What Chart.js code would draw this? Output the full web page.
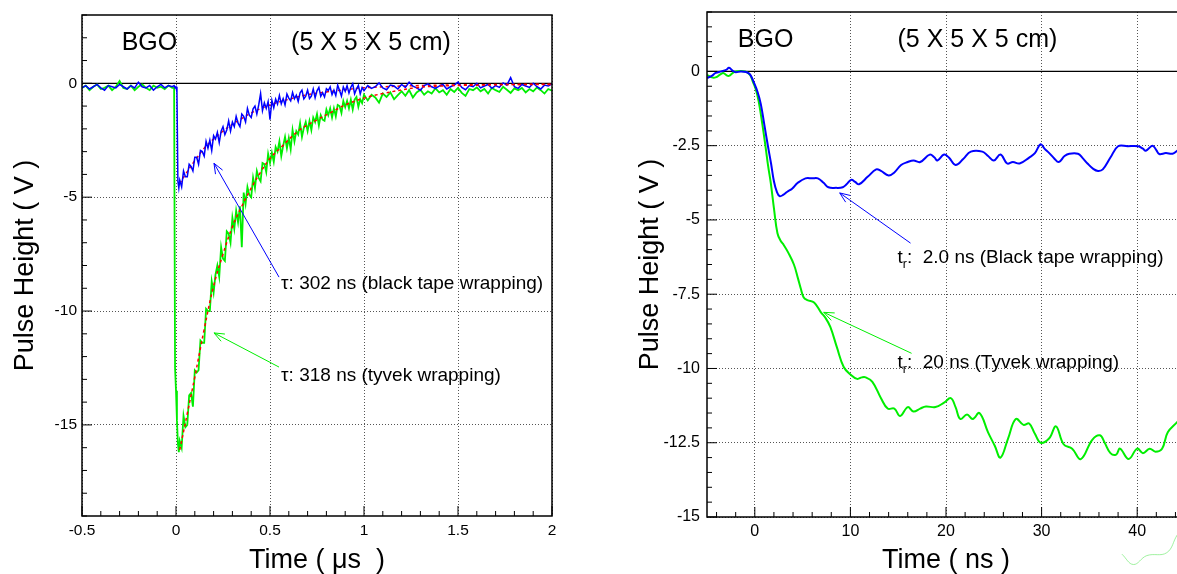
<!DOCTYPE html>
<html>
<head>
<meta charset="utf-8">
<script src="https://cdn.jsdelivr.net/npm/chart.js@4.4.0/dist/chart.umd.min.js"></script>
<style>
html, body { margin:0; padding:0; background:#fff; overflow:hidden; width:1177px; height:574px; }
#left  { position:absolute; left:0; top:0; }
#right { position:absolute; left:620px; top:0; }
</style>
</head>
<body>
<canvas id="left" width="580" height="574"></canvas>
<canvas id="right" width="600" height="574"></canvas>
<script>
// ---- left panel: decay pulses, time in us ----
const leftTime = [
  -0.5,-0.48,-0.46,-0.44,-0.42,-0.4,-0.38,-0.36,-0.34,-0.32,-0.3,-0.28,-0.26,-0.24,-0.22,-0.2,-0.18,-0.16,-0.14,-0.12,-0.1,-0.08,-0.06,-0.04,-0.02,
  -0.01,-0.005,0,0.005,0.01,0.015,
  0.02,0.03,0.04,0.05,0.06,0.07,0.08,0.09,0.1,0.11,
  0.12,0.13,0.14,0.15,0.16,0.17,0.18,0.19,0.2,0.21,
  0.22,0.23,0.24,0.25,0.26,0.27,0.28,0.29,0.3,0.31,
  0.32,0.33,0.34,0.35,0.36,0.37,0.38,0.39,0.4,0.41,
  0.42,0.43,0.44,0.45,0.46,0.47,0.48,0.49,0.5,0.51,
  0.52,0.53,0.54,0.55,0.56,0.57,0.58,0.59,0.6,0.61,
  0.62,0.63,0.64,0.65,0.66,0.67,0.68,0.69,0.7,0.71,
  0.72,0.73,0.74,0.75,0.76,0.77,0.78,0.79,0.8,0.81,
  0.82,0.83,0.84,0.85,0.86,0.87,0.88,0.89,0.9,0.91,
  0.92,0.93,0.94,0.95,0.96,0.97,0.98,0.99,1.0,
  1.02,1.04,1.06,1.08,1.1,1.12,1.14,1.16,1.18,1.2,
  1.22,1.24,1.26,1.28,1.3,1.32,1.34,1.36,1.38,1.4,
  1.42,1.44,1.46,1.48,1.5,1.52,1.54,1.56,1.58,1.6,
  1.62,1.64,1.66,1.68,1.7,1.72,1.74,1.76,1.78,1.8,
  1.82,1.84,1.86,1.88,1.9,1.92,1.94,1.96,1.98,2.0
];
const leftBlack = [
  -0.2,-0.1,-0.25,-0.15,-0.05,-0.2,-0.3,-0.1,-0.15,-0.2,-0.05,-0.15,-0.25,-0.1,-0.2,0.05,-0.15,-0.2,-0.1,-0.3,-0.15,-0.05,-0.2,-0.1,-0.15,
  -0.1,-0.2,-0.15,-0.4,-4.3,-4.6,
  -4.25,-4.55,-3.85,-4.1,-4.1,-3.55,-3.65,-3.85,-3.25,-3.25,
  -3.55,-2.95,-3.0,-3.2,-2.55,-2.85,-2.5,-2.95,-2.3,-2.45,
  -2.15,-2.6,-2.1,-1.9,-2.25,-2.05,-1.65,-2.1,-1.7,-1.9,
  -1.45,-1.75,-1.9,-1.35,-1.45,-1.7,-1.1,-1.4,-1.5,-1.12,
  -1.0,-1.35,-0.95,-0.45,-1.2,-0.85,-1.1,-0.8,-1.6,-0.75,
  -1.07,-0.69,-0.91,-0.53,-0.9,-0.67,-0.95,-0.47,-0.65,-0.77,
  -0.4,-0.68,-0.52,-0.8,-0.42,-0.3,-0.68,-0.56,-0.3,-0.67,
  -0.56,-0.25,-0.64,-0.33,-0.18,-0.57,-0.41,-0.6,-0.24,-0.32,
  -0.16,-0.5,-0.3,-0.54,-0.08,-0.32,-0.56,-0.16,-0.35,-0.1,
  -0.43,-0.17,-0.02,-0.46,-0.25,-0.09,-0.47,-0.19,-0.32,
  -0.1,-0.22,-0.15,0.02,-0.2,-0.28,-0.08,-0.12,-0.25,-0.05,
  -0.18,0.05,-0.12,-0.2,-0.3,-0.1,-0.02,-0.15,-0.22,-0.12,
  -0.05,-0.25,-0.15,-0.08,0.05,-0.18,-0.28,-0.1,-0.15,0.0,
  -0.2,-0.12,-0.05,-0.22,-0.1,-0.18,0.02,-0.08,0.25,-0.15,
  -0.22,-0.05,-0.12,-0.18,0.0,-0.15,-0.25,-0.08,-0.12,-0.02
];
const leftTyvek = [
  -0.2,-0.1,-0.3,-0.15,-0.05,-0.25,-0.2,-0.1,-0.3,-0.15,0.1,-0.2,-0.25,-0.1,-0.3,-0.15,-0.05,-0.2,-0.3,-0.1,-0.2,-0.15,-0.25,-0.1,-0.2,
  -0.2,-12.5,-13.5,-14.8,-15.8,-16.2,
  -15.7,-16.0,-14.6,-15.1,-15.0,-13.7,-13.6,-14.2,-12.6,-12.7,
  -12.6,-11.3,-11.4,-11.4,-9.9,-10.0,-10.0,-8.7,-9.2,-8.4,
  -8.0,-8.5,-7.2,-7.7,-7.8,-6.5,-6.6,-7.0,-5.9,-6.4,
  -5.6,-6.1,-5.4,-7.2,-4.8,-5.3,-4.55,-4.9,-5.0,-4.15,
  -4.6,-3.85,-4.15,-4.3,-3.5,-3.55,-3.9,-3.1,-3.5,-3.05,
  -3.45,-2.8,-3.0,-2.55,-3.2,-2.75,-2.35,-2.85,-2.4,-2.9,
  -2.05,-2.55,-2.1,-2.25,-1.75,-2.35,-1.95,-1.7,-2.1,-1.65,
  -2.05,-1.5,-1.7,-1.35,-1.85,-1.4,-1.6,-1.65,-1.15,-1.4,
  -1.1,-1.5,-1.1,-1.45,-0.95,-1.0,-1.3,-0.78,-1.05,-0.77,
  -1.1,-0.72,-1.15,-0.72,-0.6,-1.03,-0.7,-0.87,-0.5,
  -0.75,-0.5,-0.62,-0.85,-0.45,-0.6,-0.4,-0.7,-0.52,-0.35,
  -0.55,-0.3,-0.62,-0.4,-0.28,-0.5,-0.35,-0.45,-0.22,-0.4,
  -0.3,-0.5,-0.25,-0.38,-0.2,-0.42,-0.55,-0.25,-0.3,-0.18,
  -0.35,-0.25,-0.45,-0.2,-0.3,-0.38,-0.15,-0.28,-0.42,-0.22,
  -0.3,-0.2,-0.4,-0.25,-0.35,-0.18,-0.3,-0.45,-0.25,-0.32
];
// exponential fits (red dashed)
const fitBlackT = [0.02,0.05,0.1,0.15,0.2,0.25,0.3,0.35,0.4,0.5,0.6,0.7,0.8,0.9,1.0,1.2,1.5,2.0];
const fitBlackV = [-4.4,-4.0,-3.4,-2.85,-2.45,-2.1,-1.8,-1.55,-1.3,-0.95,-0.7,-0.5,-0.38,-0.28,-0.2,-0.12,-0.07,-0.04];
const fitTyvekT = [0.02,0.06,0.1,0.15,0.2,0.25,0.3,0.35,0.4,0.45,0.5,0.56,0.65,0.75,0.82,0.9,1.0,1.1,1.27,1.4,1.6,1.8,2.0];
const fitTyvekV = [-16.1,-14.5,-12.9,-10.8,-8.9,-7.5,-6.3,-5.4,-4.6,-3.9,-3.3,-2.8,-2.1,-1.6,-1.3,-0.95,-0.65,-0.45,-0.2,-0.12,-0.08,-0.05,-0.05];

const leftXTicks = [-0.5, 0, 0.5, 1, 1.5, 2];
const leftYTicks = [-15, -10, -5, 0];

// ---- right panel: rise time, time in ns ----
const rightBlackT = [-5,-4.5,-4.1,-3.5,-3.0,-2.7,-2.3,-2.0,-1.5,-0.9,-0.5,-0.1,0.3,0.63,1.0,1.35,1.7,2.0,2.3,2.6,3.0,3.4,3.9,4.5,5.3,6.0,6.6,7.2,7.7,8.5,9.2,9.6,10.1,10.5,10.9,11.8,12.7,13.2,14.0,14.6,15.3,16.0,16.6,17.3,18.3,18.8,19.1,19.8,20.3,21.0,21.8,22.6,23.8,24.4,25.0,25.7,26.4,27.0,27.7,28.7,29.3,29.9,30.3,30.8,31.3,31.8,32.4,32.9,33.8,34.3,34.8,35.4,35.9,36.4,37.2,38.0,39.0,40.1,40.6,40.9,41.6,42.0,42.3,43.0,43.7,44.3,45];
const rightBlackV = [-0.22,-0.15,-0.05,0.0,0.05,0.12,0.02,-0.03,0.0,-0.02,-0.1,-0.37,-0.7,-1.1,-1.8,-2.47,-3.1,-3.7,-4.05,-4.2,-4.15,-4.05,-3.95,-3.75,-3.6,-3.6,-3.6,-3.75,-3.9,-3.92,-3.9,-3.8,-3.65,-3.72,-3.8,-3.55,-3.3,-3.35,-3.5,-3.4,-3.15,-3.05,-3.0,-3.05,-2.8,-2.9,-3.0,-2.8,-2.9,-3.15,-2.95,-2.7,-2.7,-2.85,-3.0,-2.8,-3.1,-3.05,-3.1,-2.9,-2.75,-2.45,-2.6,-2.75,-2.92,-3.05,-2.85,-2.77,-2.77,-2.92,-3.1,-3.28,-3.35,-3.3,-2.9,-2.52,-2.52,-2.52,-2.6,-2.67,-2.5,-2.65,-2.78,-2.75,-2.77,-2.65,-2.6];
const rightTyvekT = [-5,-4.5,-4.1,-3.6,-3.3,-3.0,-2.7,-2.3,-2.0,-1.0,-0.5,-0.2,0.1,0.4,0.8,1.15,1.4,1.67,2.0,2.37,2.7,3.04,3.5,4.09,4.5,4.8,5.1,5.5,6.2,6.9,7.4,7.9,8.6,9.3,10.0,10.7,11.2,11.6,12.3,13.2,13.9,14.6,15.2,16.0,16.6,17.3,17.9,18.9,19.8,20.5,21.0,21.5,22.2,22.8,23.5,24.4,25.1,25.7,26.5,27.3,28.1,28.7,29.3,29.9,30.8,31.5,32.3,33.2,34.1,35.3,36.1,36.6,37.2,37.8,38.2,39.1,40.0,40.6,41.3,41.9,42.6,43.2,44.2,45];
const rightTyvekV = [-0.12,-0.2,-0.2,-0.1,-0.05,-0.12,-0.15,-0.05,0.0,0.0,-0.12,-0.35,-0.6,-1.0,-1.8,-2.6,-3.2,-3.75,-4.6,-5.45,-5.7,-5.85,-6.1,-6.5,-6.95,-7.3,-7.6,-7.7,-7.78,-8.1,-8.3,-8.6,-9.3,-9.95,-10.2,-10.35,-10.3,-10.3,-10.45,-11.0,-11.35,-11.35,-11.6,-11.3,-11.45,-11.35,-11.28,-11.3,-11.15,-11.0,-11.3,-11.7,-11.55,-11.7,-11.5,-12.15,-12.6,-13.0,-12.35,-11.7,-11.9,-11.85,-12.2,-12.5,-12.35,-11.95,-12.55,-12.7,-13.05,-12.4,-12.25,-12.5,-12.85,-12.9,-12.7,-13.05,-12.7,-12.85,-12.7,-12.8,-12.7,-12.15,-11.8,-11.5];
// faint stray trace below the frame, bottom right
const strayT = [38.4,39.6,41.0,43.1,44.2,45];
const strayV = [-16.25,-16.6,-16.3,-16.2,-15.6,-15.3];

const rightXTicks = [0, 10, 20, 30, 40];
const rightYTicks = [-15, -12.5, -10, -7.5, -5, -2.5, 0];

const FONT = '"Liberation Sans", Arial, Helvetica, sans-serif';
Chart.defaults.font.family = FONT;
Chart.defaults.color = '#000';

const pts = (xs, ys) => xs.map((x, i) => ({ x: x, y: ys[i] }));

// frame, zero line, inner ROOT-style ticks, labels and arrows
const panelDecor = {
  id: 'panelDecor',
  beforeDatasetsDraw(chart) {
    const { ctx, chartArea: a, scales: { y } } = chart;
    const y0 = y.getPixelForValue(0);
    ctx.save();
    ctx.strokeStyle = '#000';
    ctx.lineWidth = 1.3;
    ctx.beginPath(); ctx.moveTo(a.left, y0); ctx.lineTo(a.right, y0); ctx.stroke();
    ctx.restore();
  },
  afterDatasetsDraw(chart, args, opts) {
    const { ctx, chartArea: a, scales: { x, y } } = chart;
    ctx.save();
    ctx.strokeStyle = '#000';
    ctx.lineWidth = 1.5;
    ctx.strokeRect(a.left, a.top, a.right - a.left, a.bottom - a.top);

    ctx.lineWidth = 1;
    const ticks = (scale, minor, major, draw) => {
      const k0 = Math.ceil(scale.min / minor - 1e-6), k1 = Math.floor(scale.max / minor + 1e-6);
      for (let k = k0; k <= k1; k++) {
        const r = k * minor / major;
        draw(scale.getPixelForValue(k * minor), Math.abs(r - Math.round(r)) < 1e-6 ? 10 : 5);
      }
    };
    ctx.beginPath();
    ticks(x, opts.minorX, opts.majorX, (p, len) => { ctx.moveTo(p, a.bottom); ctx.lineTo(p, a.bottom - len); });
    ticks(y, opts.minorY, opts.majorY, (p, len) => { ctx.moveTo(a.left, p); ctx.lineTo(a.left + len, p); });
    ctx.stroke();

    opts.arrows.forEach(ar => {
      const x1 = x.getPixelForValue(ar.from[0]), y1 = y.getPixelForValue(ar.from[1]);
      const x2 = x.getPixelForValue(ar.to[0]), y2 = y.getPixelForValue(ar.to[1]);
      const ang = Math.atan2(y2 - y1, x2 - x1);
      ctx.strokeStyle = ar.color;
      ctx.lineWidth = 1;
      ctx.beginPath();
      ctx.moveTo(x1, y1); ctx.lineTo(x2, y2);
      [-0.38, 0.38].forEach(d => {
        ctx.moveTo(x2, y2);
        ctx.lineTo(x2 - 11 * Math.cos(ang + d), y2 - 11 * Math.sin(ang + d));
      });
      ctx.stroke();
    });

    ctx.fillStyle = '#000';
    ctx.textAlign = 'left';
    ctx.textBaseline = 'alphabetic';
    opts.texts.forEach(t => {
      let px = x.getPixelForValue(t.x);
      const py = y.getPixelForValue(t.y);
      t.parts.forEach(p => {
        const size = p.sub ? t.size * 0.65 : t.size;
        ctx.font = size + 'px ' + FONT;
        ctx.fillText(p.text, px, p.sub ? py + size * 0.4 : py);
        px += ctx.measureText(p.text).width;
      });
    });
    ctx.restore();
  }
};

function axes(cfg) {
  return {
    x: {
      type: 'linear', min: cfg.xMin, max: cfg.xMax,
      afterBuildTicks: s => { s.ticks = cfg.xTicks.map(v => ({ value: v })); },
      afterFit: s => { s.height = cfg.xHeight; s.paddingTop = 0; s.paddingBottom = 0; },
      ticks: { font: { size: cfg.tickSize }, padding: cfg.xPad, maxRotation: 0, color: '#000', callback: v => String(v) },
      grid: { color: '#555', lineWidth: 1, drawTicks: false },
      border: { display: false, dash: [1, 2] },
      title: { display: true, text: cfg.xTitle, font: { size: 27, lineHeight: 1 }, padding: { top: 0, bottom: 0 }, color: '#000' }
    },
    y: {
      type: 'linear', min: cfg.yMin, max: cfg.yMax,
      afterBuildTicks: s => { s.ticks = cfg.yTicks.map(v => ({ value: v })); },
      afterFit: s => { s.width = cfg.yWidth; s.paddingTop = 0; s.paddingBottom = 0; },
      ticks: { font: { size: cfg.tickSize }, padding: cfg.yPad, color: '#000', callback: v => String(v) },
      grid: { color: '#555', lineWidth: 1, drawTicks: false },
      border: { display: false, dash: [1, 2] },
      title: { display: true, text: 'Pulse Height ( V )', font: { size: 27, lineHeight: 1 }, padding: { top: cfg.yTitlePad, bottom: 0 }, color: '#000' }
    }
  };
}

const line = (data, color, width, extra) => Object.assign({
  data: data, borderColor: color, borderWidth: width, pointRadius: 0, fill: false, tension: 0
}, extra || {});

new Chart(document.getElementById('left'), {
  type: 'line',
  data: {
    datasets: [
      line(pts(leftTime, leftTyvek), '#00ee00', 1.8, { order: 3 }),
      line(pts(leftTime, leftBlack), '#0000ff', 1.5, { order: 2 }),
      line(pts(fitTyvekT, fitTyvekV), '#ff0000', 1.5, { order: 1, borderDash: [3, 3], tension: 0.4 }),
      line(pts(fitBlackT, fitBlackV), '#ff0000', 1.5, { order: 4, borderDash: [3, 3], tension: 0.4 })
    ]
  },
  options: {
    responsive: false, animation: false, events: [],
    layout: { padding: { top: 15, right: 28, bottom: 0, left: 0 } },
    scales: axes({
      xMin: -0.5, xMax: 2, yMin: -19, yMax: 3, xTicks: leftXTicks, yTicks: leftYTicks,
      xHeight: 58, yWidth: 82, tickSize: 15.5, xPad: 5, yPad: 5, yTitlePad: 12.5,
      xTitle: 'Time ( \u03bcs  )'
    }),
    plugins: {
      legend: { display: false }, tooltip: { enabled: false },
      panelDecor: {
        minorX: 0.1, majorX: 0.5, minorY: 1, majorY: 5,
        arrows: [
          { from: [0.548, -8.51], to: [0.202, -3.51], color: '#0000ff' },
          { from: [0.548, -12.46], to: [0.202, -10.96], color: '#00ee00' }
        ],
        texts: [
          { x: -0.289, y: 1.45, size: 25, parts: [{ text: 'BGO' }] },
          { x: 0.612, y: 1.45, size: 25, parts: [{ text: '(5 X 5 X 5 cm)' }] },
          { x: 0.559, y: -9.04, size: 19, parts: [{ text: '\u03c4: 302 ns (black tape wrapping)' }] },
          { x: 0.559, y: -13.07, size: 19, parts: [{ text: '\u03c4: 318 ns (tyvek wrapping)' }] }
        ]
      }
    }
  },
  plugins: [panelDecor]
});

new Chart(document.getElementById('right'), {
  type: 'line',
  data: {
    datasets: [
      line(pts(rightTyvekT, rightTyvekV), '#00ee00', 2, { order: 2, tension: 0.4 }),
      line(pts(rightBlackT, rightBlackV), '#0000ff', 2, { order: 1, tension: 0.4 }),
      line(pts(strayT, strayV), 'rgba(120,235,120,0.7)', 1, { order: 3, tension: 0.4, clip: false })
    ]
  },
  options: {
    responsive: false, animation: false, events: [],
    layout: { padding: { top: 12, right: 35, bottom: 0, left: 0 } },
    scales: axes({
      xMin: -5, xMax: 45, yMin: -15, yMax: 2, xTicks: rightXTicks, yTicks: rightYTicks,
      xHeight: 57, yWidth: 87, tickSize: 16, xPad: 5, yPad: 7, yTitlePad: 17.5,
      xTitle: 'Time ( ns )'
    }),
    plugins: {
      legend: { display: false }, tooltip: { enabled: false },
      panelDecor: {
        minorX: 2, majorX: 10, minorY: 0.5, majorY: 2.5,
        arrows: [
          { from: [16.29, -5.78], to: [8.88, -4.09], color: '#0000ff' },
          { from: [16.4, -9.49], to: [7.21, -8.11], color: '#00ee00' }
        ],
        texts: [
          { x: -1.78, y: 0.81, size: 25, parts: [{ text: 'BGO' }] },
          { x: 14.93, y: 0.81, size: 25, parts: [{ text: '(5 X 5 X 5 cm)' }] },
          { x: 14.93, y: -6.45, size: 19, parts: [{ text: 't' }, { text: 'r', sub: true }, { text: ':  2.0 ns (Black tape wrapping)' }] },
          { x: 14.93, y: -10.0, size: 19, parts: [{ text: 't' }, { text: 'r', sub: true }, { text: ':  20 ns (Tyvek wrapping)' }] }
        ]
      }
    }
  },
  plugins: [panelDecor]
});
</script>
</body>
</html>
